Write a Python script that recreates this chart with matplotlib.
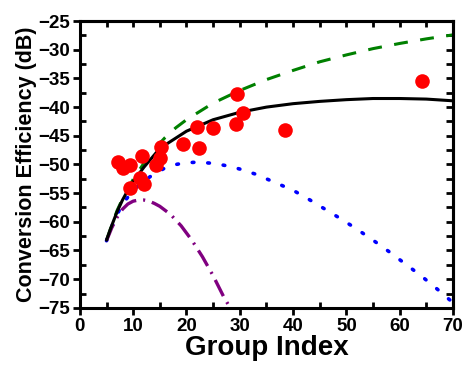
import matplotlib
matplotlib.use("Agg")
import matplotlib.pyplot as plt
from matplotlib.ticker import MultipleLocator

plt.rcParams['font.family'] = ['Liberation Sans', 'DejaVu Sans']
plt.rcParams['font.weight'] = 'bold'
plt.rcParams['lines.scale_dashes'] = False

# measured points
meas_x = [7.2, 8.0, 9.4, 11.6, 11.3, 12.0, 9.5, 14.3, 15.0, 15.3, 19.3, 22.4, 22.0, 24.9,
          29.3, 30.6, 29.4, 38.5, 64.2]
meas_y = [-49.5, -50.7, -50.1, -48.5, -52.4, -53.4, -54.1, -50.1, -48.9, -46.9, -46.4,
          -47.2, -43.4, -43.7, -42.9, -41.0, -37.7, -44.0, -35.5]

# black solid curve
black_x = [5, 6, 7, 8, 9, 10, 12, 15, 20, 25, 30, 35, 40, 45, 50, 55, 60, 65, 70]
black_y = [-63.2, -60.6, -58.2, -56.2, -54.5, -53.0, -50.5, -47.2, -44.2, -42.2, -40.9,
           -40.0, -39.4, -39.0, -38.7, -38.5, -38.5, -38.6, -38.9]

# green dashed curve
green_x = [5, 6, 7, 8, 10, 12, 14, 16, 18, 20, 25, 30, 35, 40, 45, 50, 55, 60, 65, 70]
green_y = [-63.2, -60.5, -58.0, -56.0, -52.6, -49.8, -47.3, -45.3, -43.6, -42.2, -39.3,
           -37.1, -35.2, -33.6, -32.1, -30.9, -29.8, -28.9, -28.1, -27.4]

# blue dotted curve
blue_x = [5, 6, 7, 8, 10, 12, 14, 16, 18, 20, 22, 25, 28, 30, 33, 36, 40, 43, 46, 49, 52,
          55, 58, 61, 64, 67, 70]
blue_y = [-63.3, -60.8, -58.7, -56.9, -54.5, -52.9, -51.6, -50.6, -50.0, -49.7, -49.6,
          -49.8, -50.3, -50.8, -51.7, -52.9, -54.5, -56.1, -57.8, -59.5, -61.3, -63.2,
          -65.2, -67.3, -69.4, -71.7, -74.1]

# purple dash-dot curve
purple_x = [5, 6, 7, 8, 9, 10, 11, 12, 13, 14, 15, 17, 19, 21, 23, 25, 27, 28.2]
purple_y = [-63.3, -61.0, -59.2, -57.8, -56.9, -56.4, -56.2, -56.2, -56.4, -56.8, -57.3,
            -58.7, -60.7, -63.2, -66.1, -69.4, -73.1, -75.0]

x_ticks = [0, 10, 20, 30, 40, 50, 60, 70]
y_ticks = [-75, -70, -65, -60, -55, -50, -45, -40, -35, -30, -25]

fig = plt.figure(figsize=(4.67, 3.70), dpi=100)
ax = fig.add_axes([0.171, 0.168, 0.970 - 0.171, 0.943 - 0.168])

ax.plot(green_x, green_y, color='#008000', lw=2.2, linestyle=(0, (10, 9)), zorder=2)
ax.plot(blue_x, blue_y, color='#0000ff', lw=2.6, linestyle=(0, (1.2, 10)),
        dash_capstyle='round', zorder=2)
ax.plot(purple_x, purple_y, color='#800080', lw=2.4, linestyle=(0, (13, 5, 1.5, 5)), zorder=2)
ax.plot(black_x, black_y, color='black', lw=2.2, zorder=3, solid_capstyle='round')
ax.plot(meas_x, meas_y, 'o', color='red', markersize=10.5, markeredgewidth=0, zorder=4)

ax.set_xlim(0, 70)
ax.set_ylim(-75, -25)
ax.set_xticks(x_ticks)
ax.set_yticks(y_ticks)
ax.xaxis.set_minor_locator(MultipleLocator(5))
ax.yaxis.set_minor_locator(MultipleLocator(2.5))
ax.tick_params(which='major', direction='out', length=5, width=2, labelsize=13.5, pad=2)
ax.tick_params(which='minor', direction='in', length=4, width=2)
for lab in ax.get_xticklabels() + ax.get_yticklabels():
    lab.set_fontweight('bold')

for s in ax.spines.values():
    s.set_linewidth(2.2)

secx = ax.secondary_xaxis('top')
secx.set_xticks(x_ticks)
secx.xaxis.set_minor_locator(MultipleLocator(5))
secx.tick_params(which='both', direction='in', length=4.5, width=2, labeltop=False)
secx.spines['top'].set_linewidth(2.2)
secy = ax.secondary_yaxis('right')
secy.set_yticks(y_ticks)
secy.yaxis.set_minor_locator(MultipleLocator(2.5))
secy.tick_params(which='both', direction='in', length=5, width=2, labelright=False)
secy.spines['right'].set_linewidth(2.2)

ax.set_xlabel('Group Index', fontsize=20, fontweight='bold', labelpad=0)
ax.set_ylabel('Conversion Efficiency (dB)', fontsize=15.5, fontweight='bold', labelpad=1)

fig.savefig('out.png', dpi=100)
